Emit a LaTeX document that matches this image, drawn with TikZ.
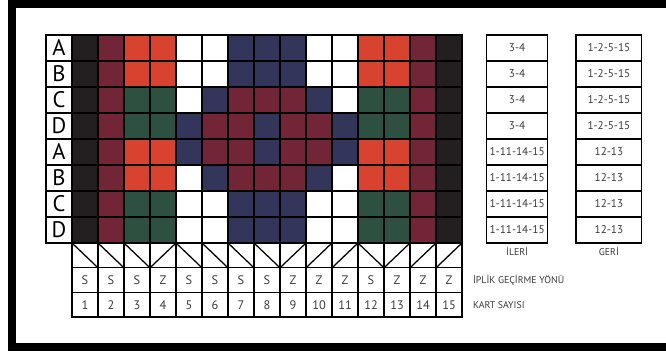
\documentclass[tikz,border=0pt]{standalone}
\usepackage{fontspec}
\setmainfont{PT Sans}
\usetikzlibrary{positioning}
\definecolor{yarnK}{HTML}{231F20}
\definecolor{yarnM}{HTML}{722536}
\definecolor{yarnR}{HTML}{D8432F}
\definecolor{yarnG}{HTML}{2D5040}
\definecolor{yarnN}{HTML}{33355A}
\definecolor{yarnW}{HTML}{FFFFFF}
\definecolor{TextGray}{HTML}{3A3A3A}

\begin{document}
\begin{tikzpicture}[x=0.65cm,y=0.65cm,
    cell/.style={draw=black, line width=0.9pt, minimum width=0.65cm, minimum height=0.65cm, inner sep=0pt, outer sep=0pt},
    lettercell/.style={cell, fill=white, font=\fontsize{16}{16}\selectfont},
    lowcell/.style={cell, minimum height=0.62cm, font=\fontsize{8.8}{9}\selectfont, text=TextGray},
    tabcell/.style={cell, line width=1.1pt, font=\fontsize{8}{8}\selectfont, text=TextGray},
    note/.style={font=\fontsize{7}{7}\selectfont, text=TextGray, inner sep=0pt}]
    \useasboundingbox (-2.769,1.346) rectangle (22.846,-12.192);
    \draw[line width=0.2cm] (-2.31,1.21) rectangle (23.0,-12.0);

    % pattern rows
    \foreach \r/\lab/\cols in {
        1/A/{K,M,R,R,W,W,N,N,N,W,W,R,R,M,K},
        2/B/{K,M,R,R,W,W,N,N,N,W,W,R,R,M,K},
        3/C/{K,M,G,G,W,N,M,M,M,N,W,G,G,M,K},
        4/D/{K,M,G,G,N,M,M,N,M,M,N,G,G,M,K},
        5/A/{K,M,R,R,N,M,M,N,M,M,N,R,R,M,K},
        6/B/{K,M,R,R,W,N,M,M,M,N,W,R,R,M,K},
        7/C/{K,M,G,G,W,W,N,N,N,W,W,G,G,M,K},
        8/D/{K,M,G,G,W,W,N,N,N,W,W,G,G,M,K}} {
        \node[lettercell] (lab-\r) at (-0.5,0.5-\r) {\lab};
        \foreach \c [count=\j] in \cols
            \node[cell, fill=yarn\c] (c-\r-\j) at (\j-0.5,0.5-\r) {};
    }

    % threading and card numbers
    \foreach \d [count=\j] in {S,S,S,Z,S,S,S,S,Z,Z,Z,S,Z,Z,Z} {
        \node[lowcell] (diag-\j) at (\j-0.5,-8.477) {};
        \node[lowcell, below=0pt of diag-\j] (dir-\j) {\d};
        \node[lowcell, below=0pt of dir-\j] (card-\j) {\j};
    }
    \foreach \j in {1,2,3,5,6,7,8,12}
        \draw[line width=0.9pt] (diag-\j.north west) -- (diag-\j.south east);
    \foreach \j in {4,9,10,11,13,14,15}
        \draw[line width=0.9pt] (diag-\j.south west) -- (diag-\j.north east);
    \draw[line width=1.3pt] (lab-1.north west) -- (c-1-15.north east) -- (card-15.south east)
        -- (card-1.south west) -- (c-8-1.south west) -- (lab-8.south west) -- cycle;

    % forward / backward tables
    \foreach \r/\fwd/\bwd in {1/3-4/1-2-5-15, 2/3-4/1-2-5-15, 3/3-4/1-2-5-15, 4/3-4/1-2-5-15,
        5/1-11-14-15/12-13, 6/1-11-14-15/12-13, 7/1-11-14-15/12-13, 8/1-11-14-15/12-13} {
        \node[tabcell, minimum width=1.53cm] (ileri-\r) at (17.12,0.5-\r) {\fwd};
        \node[tabcell, minimum width=1.64cm] (geri-\r) at (20.65,0.5-\r) {\bwd};
    }
    \node[note, below=3pt of ileri-8] (ileri-lab) {İLERİ};
    \node[note, below=3pt of geri-8] (geri-lab) {GERİ};
    \node[note, right=0.27cm of dir-15] (yon-lab) {İPLİK GEÇİRME YÖNÜ};
    \node[note, right=0.27cm of card-15] (kart-lab) {KART SAYISI};
\end{tikzpicture}
\end{document}
